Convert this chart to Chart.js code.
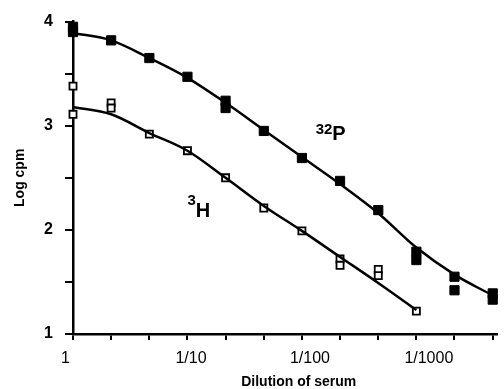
<!DOCTYPE html>
<html>
<head>
<meta charset="utf-8">
<script src="https://cdn.jsdelivr.net/npm/chart.js@4"></script>
<style>
  html, body { margin: 0; padding: 0; background: #fff; }
  #wrap { width: 504px; height: 389px; }
</style>
</head>
<body>
<div id="wrap"><canvas id="myChart" width="504" height="389"></canvas></div>
<script>
// x = log10 of the dilution factor (serial dilutions, three per decade)
const curveX = [0, 0.333, 0.667, 1, 1.333, 1.667, 2, 2.333, 2.667, 3, 3.333, 3.667];
const p32Curve = [3.89, 3.82, 3.65, 3.46, 3.22, 2.96, 2.70, 2.44, 2.16, 1.83, 1.57, 1.37];
const h3Curve = [3.18, 3.11, 2.93, 2.76, 2.50, 2.23, 1.99, 1.74, 1.49, 1.23];

// measured points
const p32X = [0, 0, 0.333, 0.667, 1, 1.333, 1.333, 1.667, 2, 2.333, 2.667, 3, 3, 3.333, 3.333, 3.667, 3.667];
const p32Y = [3.95, 3.90, 3.82, 3.65, 3.47, 3.24, 3.17, 2.95, 2.69, 2.47, 2.19, 1.79, 1.71, 1.55, 1.42, 1.39, 1.33];
const h3X = [0, 0, 0.333, 0.333, 0.667, 1, 1.333, 1.667, 2, 2.333, 2.333, 2.667, 2.667, 3];
const h3Y = [3.38, 3.11, 3.22, 3.17, 2.92, 2.76, 2.50, 2.21, 1.99, 1.72, 1.66, 1.62, 1.56, 1.22];

const xTickLabels = ['1', '1/10', '1/100', '1/1000'];
const yTickLabels = ['1', '2', '3', '4'];

const FONT = '"Liberation Sans", Arial, sans-serif';
const toPoints = (xs, ys) => ys.map((y, i) => ({ x: xs[i], y: y }));

const labelPlugin = {
    id: 'isotopeLabels',
    afterDatasetsDraw(chart) {
        const { ctx, scales, chartArea } = chart;
        const put = (sup, main, xv, yv, rise) => {
            const x = scales.x.getPixelForValue(xv);
            const y = scales.y.getPixelForValue(yv);
            ctx.save();
            ctx.fillStyle = '#000';
            ctx.textBaseline = 'alphabetic';
            ctx.font = 'bold 15px ' + FONT;
            ctx.fillText(sup, x, y - rise);
            const w = ctx.measureText(sup).width;
            ctx.font = 'bold 20px ' + FONT;
            ctx.fillText(main, x + w, y);
            ctx.restore();
        };
        put('32', 'P', 2.12, 2.86, 6);
        put('3', 'H', 1.0, 2.12, 12);

        // x axis title (the original axis runs past the crop, so it sits right of centre)
        ctx.save();
        ctx.fillStyle = '#000';
        ctx.font = 'bold 14px ' + FONT;
        ctx.textAlign = 'center';
        ctx.textBaseline = 'alphabetic';
        ctx.fillText('Dilution of serum', (chartArea.left + chartArea.right) / 2 + 14, 386);
        ctx.restore();
    }
};

const ctx = document.getElementById('myChart').getContext('2d');
new Chart(ctx, {
    type: 'scatter',
    data: {
        datasets: [
            {
                type: 'line',
                data: toPoints(curveX, p32Curve),
                borderColor: '#000',
                borderWidth: 2.5,
                pointRadius: 0,
                cubicInterpolationMode: 'monotone',
                fill: false
            },
            {
                type: 'line',
                data: toPoints(curveX, h3Curve),
                borderColor: '#000',
                borderWidth: 2.5,
                pointRadius: 0,
                cubicInterpolationMode: 'monotone',
                fill: false
            },
            {
                label: '32P',
                data: toPoints(p32X, p32Y),
                pointStyle: 'rect',
                pointRadius: 6.5,
                backgroundColor: '#000',
                borderColor: '#000',
                borderWidth: 1
            },
            {
                label: '3H',
                data: toPoints(h3X, h3Y),
                pointStyle: 'rect',
                pointRadius: 5,
                backgroundColor: '#fff',
                borderColor: '#000',
                borderWidth: 1.8
            }
        ]
    },
    options: {
        responsive: false,
        animation: false,
        clip: false,
        layout: { padding: { top: 20, right: 0, left: 0, bottom: 0 } },
        plugins: { legend: { display: false }, tooltip: { enabled: false } },
        scales: {
            x: {
                type: 'linear',
                min: 0,
                max: 3.7,
                afterBuildTicks: (axis) => {
                    axis.ticks = curveX.map(v => ({ value: v }));
                },
                afterFit: (axis) => { axis.height = 55; },
                ticks: {
                    autoSkip: false,
                    maxRotation: 0,
                    align: 'start',
                    labelOffset: -12,
                    padding: 9,
                    color: '#000',
                    font: { family: FONT, size: 16 },
                    callback: (v) => {
                        const r = Math.round(v);
                        return Math.abs(v - r) < 0.01 ? xTickLabels[r] : '';
                    }
                },
                grid: { drawOnChartArea: false, color: '#000', lineWidth: 2, tickLength: 6 },
                border: { color: '#000', width: 2.5 },
                title: { display: false }
            },
            y: {
                min: 1,
                max: 4,
                afterBuildTicks: (axis) => {
                    axis.ticks = [1, 1.5, 2, 2.5, 3, 3.5, 4].map(v => ({ value: v }));
                },
                afterFit: (axis) => { axis.width = 73; },
                ticks: {
                    padding: 12,
                    color: '#000',
                    font: { family: FONT, size: 16, weight: 'bold' },
                    callback: (v) => Number.isInteger(v) ? yTickLabels[v - 1] : ''
                },
                grid: { drawOnChartArea: false, color: '#000', lineWidth: 2, tickLength: 8 },
                border: { color: '#000', width: 2.5 },
                title: {
                    display: true,
                    text: 'Log cpm',
                    color: '#000',
                    padding: { top: 12, bottom: 0 },
                    font: { family: FONT, size: 14, weight: 'bold' }
                }
            }
        }
    },
    plugins: [labelPlugin]
});
</script>
</body>
</html>
